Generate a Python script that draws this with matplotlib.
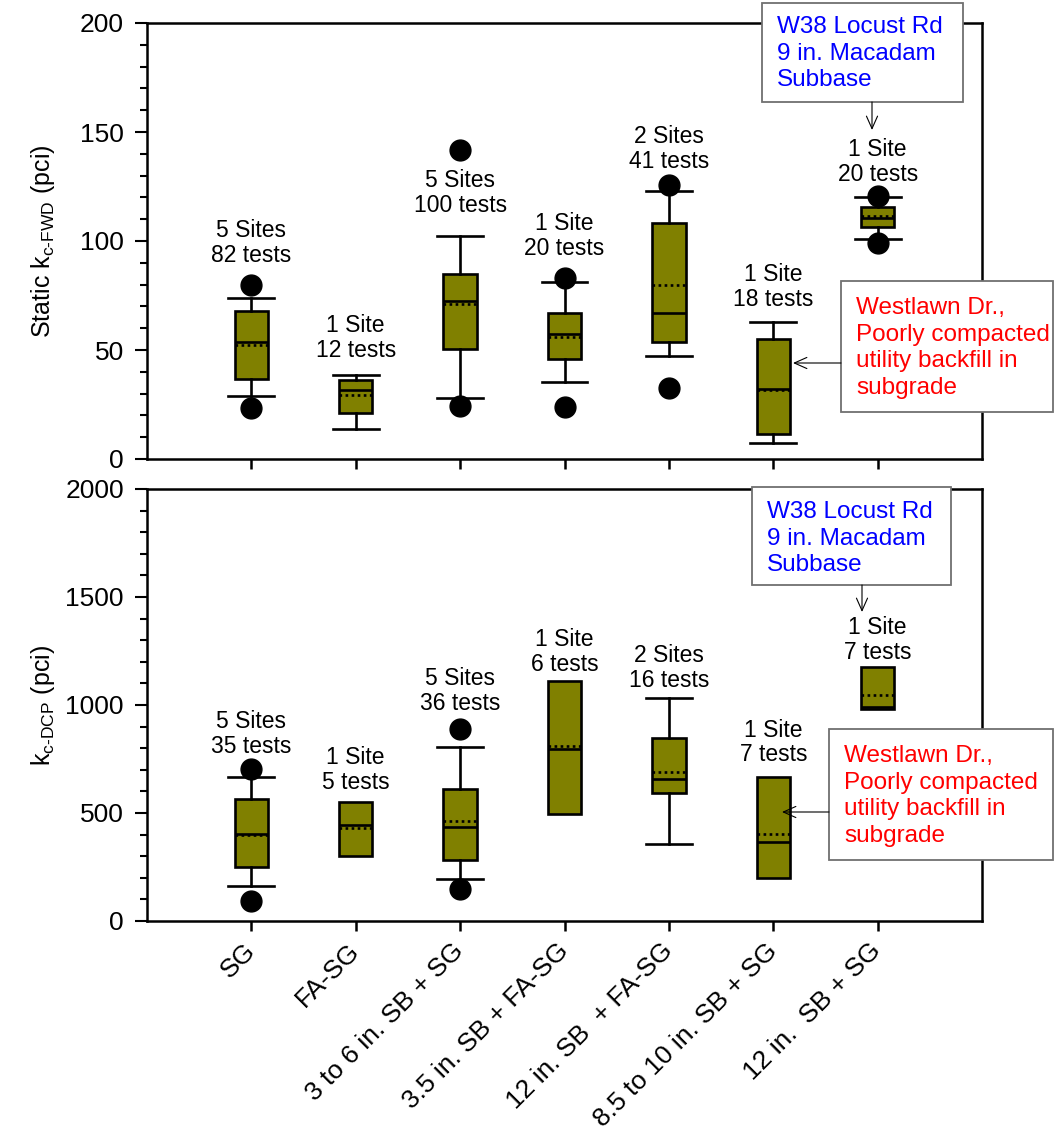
import matplotlib
matplotlib.use("Agg")
import matplotlib.pyplot as plt
import numpy as np
from matplotlib.patches import Rectangle, FancyArrowPatch
from matplotlib.ticker import MultipleLocator

plt.rcParams["font.family"] = ["Liberation Sans", "DejaVu Sans"]
plt.rcParams["mathtext.fontset"] = "custom"
plt.rcParams["mathtext.rm"] = "Liberation Sans"
plt.rcParams["mathtext.default"] = "regular"

categories = ["SG", "FA-SG", "3 to 6 in. SB + SG", "3.5 in. SB + FA-SG",
              "12 in. SB  + FA-SG", "8.5 to 10 in. SB + SG", "12 in.  SB + SG"]

# static k from FWD (pci)
fwd_q1 = [36.6, 21.0, 50.5, 45.9, 53.5, 11.5, 106.6]
fwd_med = [53.5, 31.7, 72.6, 57.2, 67.1, 32.1, 110.5]
fwd_mean = [52.3, 29.2, 71.2, 56.0, 79.7, 31.8, 111.5]
fwd_q3 = [68.0, 36.2, 84.7, 67.1, 108.1, 54.9, 115.4]
fwd_lo = [28.9, 13.9, 27.8, 35.5, 47.4, 7.2, 100.8]
fwd_hi = [74.0, 38.5, 102.4, 81.3, 122.9, 63.0, 120.0]
fwd_out = [[79.8, 23.2], [], [141.9, 24.3], [82.9, 24.0], [125.7, 32.7], [], [120.6, 99.2]]
fwd_sites = [5, 1, 5, 1, 2, 1, 1]
fwd_tests = [82, 12, 100, 20, 41, 18, 20]

# k from DCP (pci); nan = no whiskers drawn
dcp_q1 = [248.5, 301, 282, 494, 591, 197.5, 980]
dcp_med = [402.8, 444, 436.7, 797.8, 658.9, 367, 992]
dcp_mean = [396.7, 429, 463, 811.7, 688.3, 401, 1046]
dcp_q3 = [564.8, 551, 609.6, 1111, 848.8, 668, 1176]
dcp_lo = [162, np.nan, 193, np.nan, 356.5, np.nan, np.nan]
dcp_hi = [666.7, np.nan, 804, np.nan, 1032, np.nan, np.nan]
dcp_out = [[702, 94], [], [887.5, 146.7], [], [], [], []]
dcp_sites = [5, 1, 5, 1, 2, 1, 1]
dcp_tests = [35, 5, 36, 6, 16, 7, 7]

# where the "n Sites / n tests" captions sit (data units, bottom of text)
fwd_label_y = [88.3, 44.7, 111.2, 91.5, 131.4, 67.8, 125.4]
dcp_label_y = [755, 589, 953, 1133, 1061, 716, 1190]

OLIVE = "#808000"
W, H = 1055, 1131
fig = plt.figure(figsize=(W / 100, H / 100), dpi=100)


def px_rect(left, top, right, bottom):
    return [left / W, 1 - bottom / H, (right - left) / W, (bottom - top) / H]


def px(x, y):
    return x / W, 1 - y / H


def draw_panel(ax, q1, med, mean, q3, lo, hi, out, sites, tests, label_y):
    pos = np.arange(1, len(q1) + 1)
    stats = []
    for i in range(len(q1)):
        no_whisk = np.isnan(lo[i])
        stats.append({
            "q1": q1[i], "med": med[i], "mean": mean[i], "q3": q3[i],
            "whislo": q1[i] if no_whisk else lo[i],
            "whishi": q3[i] if no_whisk else hi[i],
            "fliers": out[i],
        })
    line = dict(color="black", linewidth=1.9)
    art = ax.bxp(stats, positions=pos, widths=0.32, capwidths=0.44,
                 showmeans=True, meanline=True, patch_artist=True,
                 boxprops=dict(facecolor=OLIVE, edgecolor="black", linewidth=1.9),
                 whiskerprops=line, capprops=line, medianprops=line,
                 meanprops=dict(color="black", linewidth=1.9, linestyle=(0, (1.0, 1.3))),
                 flierprops=dict(marker="o", markerfacecolor="black",
                                 markeredgecolor="black", markersize=15))
    for i in range(len(q1)):
        if np.isnan(lo[i]):
            for a in (art["whiskers"][2 * i], art["whiskers"][2 * i + 1],
                      art["caps"][2 * i], art["caps"][2 * i + 1]):
                a.set_visible(False)
    for p, s, t, y in zip(pos, sites, tests, label_y):
        word = "Sites" if s > 1 else "Site"
        ax.text(p, y, f"{s} {word}\n{t} tests", ha="center", va="bottom",
                fontsize=16.5, linespacing=1.1)
    ax.set_xlim(0, 8)
    ax.set_xticks(pos)
    for sp in ax.spines.values():
        sp.set_linewidth(1.8)
    ax.tick_params(axis="x", direction="out", length=7, width=1.8)
    ax.tick_params(axis="y", which="major", direction="out", length=8.6, width=1.5,
                   labelsize=19, pad=8)
    ax.tick_params(axis="y", which="minor", direction="out", length=5, width=1.5)


def note(left, top, right, bottom, text, color, tx, ty, start, end):
    fig.add_artist(Rectangle(px(left, bottom), (right - left) / W, (bottom - top) / H,
                             transform=fig.transFigure, facecolor="white",
                             edgecolor="#707070", linewidth=1.3, zorder=5))
    fig.text(*px(tx, ty), text, color=color, fontsize=17.5, ha="left", va="top",
             linespacing=1.27, zorder=6)
    fig.add_artist(FancyArrowPatch(px(*start), px(*end), transform=fig.transFigure,
                                   arrowstyle="->,head_length=9,head_width=4",
                                   color="black", linewidth=0.8, zorder=6,
                                   shrinkA=0, shrinkB=0))


ax_fwd = fig.add_axes(px_rect(147, 23, 982, 459))
ax_dcp = fig.add_axes(px_rect(147, 489, 982, 921))

draw_panel(ax_fwd, fwd_q1, fwd_med, fwd_mean, fwd_q3, fwd_lo, fwd_hi, fwd_out,
           fwd_sites, fwd_tests, fwd_label_y)
draw_panel(ax_dcp, dcp_q1, dcp_med, dcp_mean, dcp_q3, dcp_lo, dcp_hi, dcp_out,
           dcp_sites, dcp_tests, dcp_label_y)

ax_fwd.set_ylim(0, 200)
ax_fwd.yaxis.set_major_locator(MultipleLocator(50))
ax_fwd.yaxis.set_minor_locator(MultipleLocator(10))
ax_fwd.set_xticklabels([])
ax_fwd.set_ylabel("Static k$_{c\u2010FWD}$ (pci)", fontsize=18)
ax_fwd.yaxis.set_label_coords(-0.108, 0.5)

ax_dcp.set_ylim(0, 2000)
ax_dcp.yaxis.set_major_locator(MultipleLocator(500))
ax_dcp.yaxis.set_minor_locator(MultipleLocator(100))
ax_dcp.set_xticklabels(categories, rotation=45, ha="right", va="center",
                       rotation_mode="anchor", fontsize=19)
ax_dcp.tick_params(axis="x", pad=12)
ax_dcp.set_ylabel("k$_{c\u2010DCP}$ (pci)", fontsize=18)
ax_dcp.yaxis.set_label_coords(-0.108, 0.5)

locust = "W38 Locust Rd\n9 in. Macadam\nSubbase"
westlawn = "Westlawn Dr.,\nPoorly compacted\nutility backfill in\nsubgrade"
note(762, 3, 963, 102, locust, "blue", 777, 16, (872, 102), (872, 130))
note(841, 281, 1053, 412, westlawn, "red", 856, 297, (841, 363), (793, 363))
note(752, 487, 951, 585, locust, "blue", 767, 501, (862, 585), (862, 612))
note(829, 729, 1053, 860, westlawn, "red", 844, 745, (829, 812), (782, 812))

fig.savefig("out.png", dpi=100)
